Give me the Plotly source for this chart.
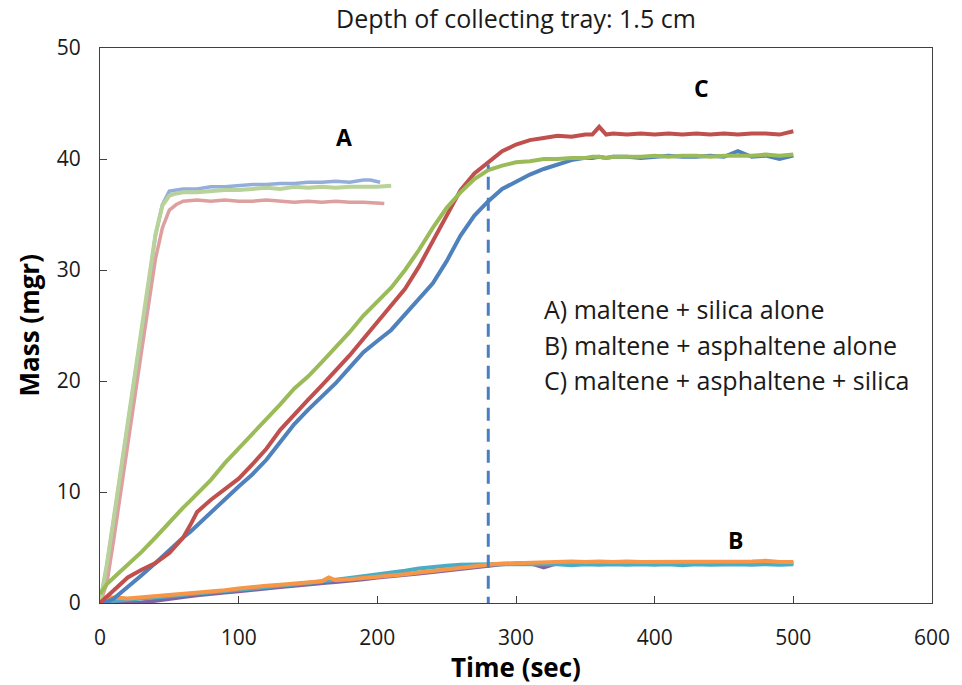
import plotly.graph_objects as go

# ---- A) maltene + silica alone ----
a_blue_t = [0, 5, 10, 20, 30, 35, 40, 45, 50, 55, 60, 70, 80, 90, 100, 110, 120, 130, 140, 150, 160, 170, 180, 190, 195, 202]
a_blue_y = [0, 3.4, 7.6, 15.9, 24.4, 28.7, 33.1, 35.9, 37.1, 37.2, 37.3, 37.3, 37.5, 37.5, 37.6, 37.7, 37.7, 37.8, 37.8, 37.9, 37.9, 38.0, 37.9, 38.1, 38.1, 37.9]

a_red_t = [0, 5, 10, 20, 30, 40, 45, 50, 55, 60, 70, 80, 90, 100, 110, 120, 130, 140, 150, 160, 170, 180, 190, 200, 205]
a_red_y = [0, 1.8, 5.8, 14.0, 22.7, 31.0, 33.8, 35.4, 35.9, 36.2, 36.3, 36.2, 36.3, 36.2, 36.2, 36.3, 36.2, 36.1, 36.2, 36.1, 36.2, 36.1, 36.1, 36.0, 36.0]

a_green_t = [0, 5, 10, 20, 30, 35, 40, 45, 50, 55, 60, 70, 80, 90, 100, 110, 120, 130, 140, 150, 160, 170, 180, 190, 200, 210]
a_green_y = [0, 3.5, 7.7, 16.0, 24.5, 28.8, 33.2, 35.8, 36.7, 36.9, 37.0, 37.0, 37.1, 37.2, 37.2, 37.3, 37.4, 37.3, 37.5, 37.4, 37.5, 37.4, 37.5, 37.5, 37.5, 37.6]

# ---- B) maltene + asphaltene alone ----
b_t = [0, 10, 20, 30, 40, 50, 60, 70, 80, 90, 100, 110, 120, 130, 140, 150, 160, 165, 170, 180, 190, 200,
       210, 220, 230, 240, 250, 260, 270, 280, 290, 300, 310, 320, 330, 340, 350, 360, 370, 380, 390,
       400, 410, 420, 430, 440, 450, 460, 470, 480, 490, 500]
b_purple_y = [0.0, 0.0, 0.0, 0.05, 0.2, 0.4, 0.55, 0.7, 0.85, 0.95, 1.05, 1.2, 1.35, 1.45, 1.55, 1.7, 1.8, 1.85, 1.9, 2.0, 2.15, 2.3,
              2.4, 2.5, 2.65, 2.8, 2.95, 3.1, 3.25, 3.4, 3.5, 3.55, 3.6, 3.2, 3.6, 3.6, 3.6, 3.6, 3.55, 3.6, 3.6,
              3.6, 3.6, 3.55, 3.6, 3.6, 3.6, 3.6, 3.6, 3.6, 3.55, 3.6]
b_teal_y = [0.1, 0.2, 0.3, 0.35, 0.45, 0.6, 0.75, 0.85, 0.95, 1.05, 1.2, 1.3, 1.45, 1.55, 1.7, 1.8, 1.95, 2.0, 2.1, 2.25, 2.4, 2.55,
            2.7, 2.9, 3.1, 3.25, 3.35, 3.45, 3.5, 3.5, 3.5, 3.5, 3.45, 3.5, 3.5, 3.4, 3.5, 3.45, 3.5, 3.45, 3.5,
            3.45, 3.5, 3.4, 3.5, 3.45, 3.5, 3.5, 3.45, 3.5, 3.45, 3.5]
b_orange_y = [0.5, 0.5, 0.4, 0.5, 0.6, 0.75, 0.85, 0.95, 1.05, 1.15, 1.3, 1.45, 1.55, 1.65, 1.75, 1.85, 1.95, 2.3, 2.05, 2.15, 2.25, 2.35,
              2.45, 2.6, 2.75, 2.9, 3.05, 3.2, 3.35, 3.45, 3.55, 3.6, 3.65, 3.7, 3.75, 3.75, 3.7, 3.75, 3.7, 3.75, 3.7,
              3.7, 3.75, 3.7, 3.7, 3.75, 3.7, 3.7, 3.75, 3.8, 3.7, 3.7]

# ---- C) maltene + asphaltene + silica ----
c_t = [0, 5, 10, 20, 30, 40, 50, 60, 65, 70, 80, 90, 100, 110, 120, 130, 140, 150, 160, 170, 180, 190, 200,
       210, 220, 230, 240, 250, 260, 270, 280, 290, 300, 310, 320, 330, 340, 350, 355, 360, 365, 370, 380, 390,
       400, 410, 420, 430, 440, 450, 460, 470, 480, 490, 500]
c_blue_y = [0.0, 0.1, 0.4, 1.4, 2.5, 3.6, 4.8, 5.9, 6.4, 7.0, 8.2, 9.4, 10.5, 11.6, 12.9, 14.5, 16.1, 17.4, 18.6, 19.8, 21.2, 22.6, 23.6,
            24.6, 26.0, 27.4, 28.8, 30.8, 33.1, 34.9, 36.2, 37.3, 38.0, 38.6, 39.1, 39.5, 39.9, 40.1, 40.1, 40.2, 40.1, 40.2, 40.2, 40.1,
            40.2, 40.3, 40.2, 40.2, 40.3, 40.2, 40.7, 40.2, 40.3, 40.0, 40.3]
c_red_y = [0.0, 0.6, 1.2, 2.3, 3.0, 3.6, 4.5, 5.9, 7.0, 8.2, 9.3, 10.2, 11.2, 12.5, 13.9, 15.6, 17.0, 18.3, 19.6, 20.9, 22.3, 23.8, 25.3,
           26.8, 28.3, 30.3, 32.6, 35.0, 37.2, 38.7, 39.7, 40.7, 41.3, 41.7, 41.9, 42.1, 42.0, 42.2, 42.2, 42.9, 42.2, 42.3, 42.2, 42.3,
           42.2, 42.3, 42.2, 42.3, 42.2, 42.3, 42.2, 42.3, 42.3, 42.2, 42.5]
c_green_y = [0.8, 1.7, 2.3, 3.4, 4.6, 5.9, 7.3, 8.6, 9.2, 9.8, 11.1, 12.6, 13.9, 15.2, 16.5, 17.9, 19.3, 20.4, 21.7, 23.0, 24.4, 25.9, 27.2,
             28.4, 30.0, 31.8, 33.8, 35.6, 37.0, 38.2, 39.0, 39.4, 39.7, 39.8, 40.0, 40.0, 40.1, 40.1, 40.2, 40.2, 40.1, 40.2, 40.2, 40.2,
             40.3, 40.2, 40.3, 40.3, 40.2, 40.3, 40.3, 40.3, 40.4, 40.3, 40.4]

# dashed vertical reference line
t_mark = 280
mark_y = [-0.6, 39.5]

x_ticks = [0, 100, 200, 300, 400, 500, 600]
y_ticks = [0, 10, 20, 30, 40, 50]

key_lines = ["A) maltene + silica alone",
             "B) maltene + asphaltene alone",
             "C) maltene + asphaltene + silica"]
key_y = [26.5, 23.2, 20.05]

FONT = "'Open Sans', Lato, sans-serif"

fig = go.Figure()

def add_line(t, y, color, width=4):
    fig.add_trace(go.Scatter(x=t, y=y, mode="lines",
                             line=dict(color=color, width=width),
                             hoverinfo="skip", showlegend=False))

# B curves
add_line(b_t, b_purple_y, "#8064A2")
add_line(b_t, b_teal_y, "#4BACC6")
add_line(b_t, b_orange_y, "#F79646")

# A curves (light tints)
add_line(a_red_t, a_red_y, "rgb(222,160,159)", 3.5)
add_line(a_blue_t, a_blue_y, "rgb(148,174,220)", 3.5)
add_line(a_green_t, a_green_y, "rgb(184,210,154)", 4)

# C curves
add_line(c_t, c_blue_y, "#4F81BD")
add_line(c_t, c_red_y, "#C0504D")
add_line(c_t, c_green_y, "#9BBB59")

# dashed marker
fig.add_trace(go.Scatter(x=[t_mark, t_mark], y=mark_y, mode="lines",
                         line=dict(color="#4A7EC2", width=3, dash="13px,8px"),
                         cliponaxis=False, hoverinfo="skip", showlegend=False))

axis_common = dict(showgrid=False, zeroline=False, showline=True, mirror=True,
                   linecolor="#404040", linewidth=1.3, ticks="inside", ticklen=7,
                   tickcolor="#404040", tickwidth=1.3,
                   tickfont=dict(family=FONT, size=21, color="#1a1a1a"))

fig.update_xaxes(range=[0, 600], tickvals=x_ticks, ticklabelstandoff=16, **axis_common)
fig.update_yaxes(range=[0, 50], tickvals=y_ticks, ticklabelstandoff=14, **axis_common)

annotations = [
    dict(text="Depth of collecting tray: 1.5 cm", x=0.5, y=1, xref="paper", yref="paper",
         yanchor="middle", yshift=30, showarrow=False,
         font=dict(family=FONT, size=25, color="#1a1a1a")),
    dict(text="<b>Time (sec)</b>", x=0.5, y=0, xref="paper", yref="paper",
         yanchor="middle", yshift=-64, showarrow=False,
         font=dict(family=FONT, size=26, color="#000")),
    dict(text="<b>Mass (mgr)</b>", x=0, y=0.5, xref="paper", yref="paper",
         xanchor="center", xshift=-72, textangle=-90, showarrow=False,
         font=dict(family=FONT, size=26, color="#000")),
    dict(text="<b>A</b>", x=176, y=42.0, showarrow=False, font=dict(family=FONT, size=23, color="#000")),
    dict(text="<b>C</b>", x=434, y=46.4, showarrow=False, font=dict(family=FONT, size=23, color="#000")),
    dict(text="<b>B</b>", x=458, y=5.7, showarrow=False, font=dict(family=FONT, size=23, color="#000")),
]
for line_text, ly in zip(key_lines, key_y):
    annotations.append(dict(text=line_text, x=319, y=ly, xanchor="left", yanchor="middle",
                            showarrow=False, font=dict(family=FONT, size=25, color="#1a1a1a")))

fig.update_layout(width=962, height=685, margin=dict(l=100, r=25, t=48, b=82),
                  paper_bgcolor="white", plot_bgcolor="white",
                  annotations=annotations, font=dict(family=FONT))

fig.write_html("out.html")
